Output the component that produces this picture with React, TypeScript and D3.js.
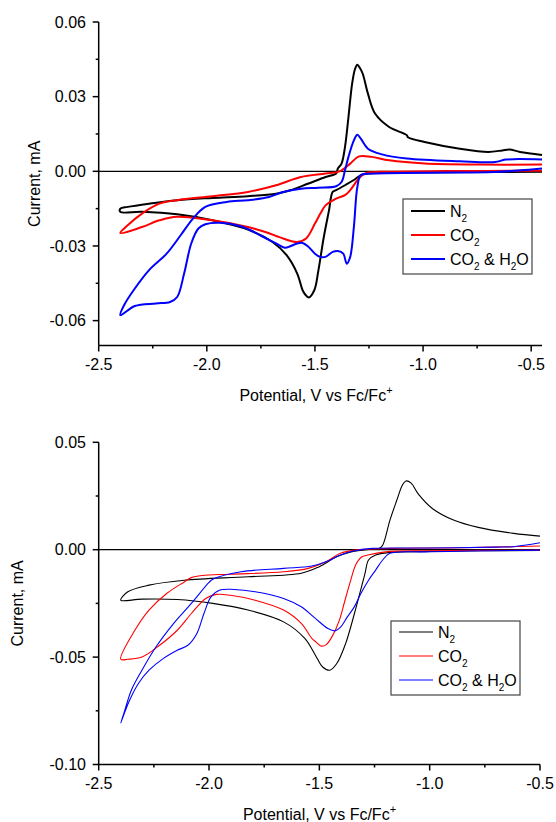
import React from "react";
import * as d3 from "d3";

type Pt = [number, number];

// ---------- Top panel data (potential V, current mA) ----------
const topN2: Pt[] = [
  [-0.45, -0.0002], [-0.8, -0.0003], [-1.1, -0.0005], [-1.25, -0.0008], [-1.288, -0.0016],
  [-1.32, -0.0035], [-1.361, -0.0056], [-1.402, -0.0076], [-1.418, -0.0083], [-1.435, -0.0157],
  [-1.459, -0.0264], [-1.484, -0.0398], [-1.503, -0.0478], [-1.529, -0.0507], [-1.545, -0.0495],
  [-1.557, -0.0478], [-1.582, -0.0411], [-1.631, -0.0337], [-1.696, -0.0284], [-1.81, -0.0234],
  [-1.974, -0.0197], [-2.137, -0.0173], [-2.3, -0.0163], [-2.4, -0.0163], [-2.4, -0.015],
  [-2.366, -0.0143], [-2.268, -0.013], [-2.137, -0.0116], [-1.974, -0.0107], [-1.81, -0.01],
  [-1.68, -0.009], [-1.614, -0.0076], [-1.533, -0.005], [-1.451, -0.0023], [-1.402, -0.0009],
  [-1.394, 0.0011], [-1.377, 0.0031], [-1.361, 0.0098], [-1.345, 0.0218], [-1.328, 0.0352],
  [-1.315, 0.041], [-1.304, 0.0428], [-1.292, 0.0415], [-1.279, 0.0392], [-1.255, 0.0312],
  [-1.222, 0.0232], [-1.157, 0.0178], [-1.075, 0.0145], [-1.07, 0.0137], [-0.993, 0.0118],
  [-0.83, 0.0091], [-0.699, 0.0078], [-0.634, 0.0084], [-0.601, 0.0088], [-0.552, 0.0078],
  [-0.45, 0.0066],
];
const topCO2: Pt[] = [
  [-0.45, 0.0002], [-0.9, 0.0001], [-1.2, -0.0002], [-1.255, -0.0005], [-1.28, -0.0015],
  [-1.304, -0.0036], [-1.337, -0.0076], [-1.361, -0.0096], [-1.402, -0.011], [-1.451, -0.0137],
  [-1.475, -0.017], [-1.5, -0.021], [-1.541, -0.027], [-1.582, -0.0284], [-1.647, -0.027],
  [-1.729, -0.0244], [-1.81, -0.0224], [-1.974, -0.0197], [-2.137, -0.0183], [-2.219, -0.0197],
  [-2.3, -0.0224], [-2.4, -0.0248], [-2.366, -0.0217], [-2.3, -0.017], [-2.219, -0.013],
  [-2.137, -0.0116], [-1.974, -0.01], [-1.81, -0.0083], [-1.68, -0.0056], [-1.565, -0.0023],
  [-1.451, -0.0009], [-1.386, 0.0], [-1.337, 0.0031], [-1.296, 0.006], [-1.239, 0.0058],
  [-1.157, 0.0044], [-0.993, 0.0031], [-0.748, 0.0027], [-0.45, 0.0027],
];
const topCO2H2O: Pt[] = [
  [-0.45, 0.0011], [-0.55, 0.0004], [-0.67, -0.0003], [-1.0, -0.0006], [-1.255, -0.001],
  [-1.288, -0.0015], [-1.304, -0.0063], [-1.32, -0.0224], [-1.337, -0.0344], [-1.353, -0.0371],
  [-1.369, -0.0331], [-1.394, -0.032], [-1.418, -0.0324], [-1.451, -0.0344], [-1.476, -0.0344],
  [-1.5, -0.0331], [-1.533, -0.0301], [-1.557, -0.0288], [-1.582, -0.029], [-1.614, -0.0301],
  [-1.639, -0.0307], [-1.68, -0.029], [-1.745, -0.0261], [-1.843, -0.0221], [-1.941, -0.0207],
  [-2.007, -0.0213], [-2.039, -0.023], [-2.072, -0.029], [-2.105, -0.0411], [-2.137, -0.0505],
  [-2.17, -0.0525], [-2.235, -0.0531], [-2.333, -0.0541], [-2.4, -0.0578], [-2.382, -0.0537],
  [-2.333, -0.0471], [-2.268, -0.0398], [-2.186, -0.0331], [-2.121, -0.0257], [-2.064, -0.019],
  [-2.007, -0.0143], [-1.908, -0.0123], [-1.81, -0.0116], [-1.712, -0.0103], [-1.647, -0.0083],
  [-1.565, -0.007], [-1.484, -0.0066], [-1.402, -0.006], [-1.377, -0.0043], [-1.361, 0.0004],
  [-1.345, 0.0058], [-1.32, 0.0124], [-1.304, 0.0147], [-1.288, 0.0131], [-1.255, 0.0091],
  [-1.19, 0.0068], [-1.075, 0.0051], [-0.83, 0.004], [-0.667, 0.0037], [-0.618, 0.0047],
  [-0.45, 0.0047],
];

// ---------- Bottom panel data ----------
const botN2: Pt[] = [
  [-0.5, -0.0003], [-1.0, -0.0008], [-1.18, -0.0013], [-1.245, -0.0025], [-1.277, -0.0048],
  [-1.293, -0.011], [-1.309, -0.0173], [-1.341, -0.0297], [-1.381, -0.0437], [-1.421, -0.053],
  [-1.453, -0.0561], [-1.485, -0.0546], [-1.518, -0.0491], [-1.566, -0.0413], [-1.662, -0.0336],
  [-1.823, -0.0281], [-1.983, -0.025], [-2.144, -0.0232], [-2.304, -0.023], [-2.4, -0.0235],
  [-2.368, -0.0196], [-2.272, -0.0165], [-2.112, -0.0142], [-1.823, -0.0126], [-1.582, -0.011],
  [-1.502, -0.008], [-1.421, -0.0033], [-1.357, -0.001], [-1.277, 0.0001], [-1.229, 0.0006],
  [-1.213, 0.0021], [-1.18, 0.0138], [-1.149, 0.023], [-1.124, 0.03], [-1.108, 0.032],
  [-1.084, 0.031], [-1.052, 0.026], [-0.988, 0.0192], [-0.892, 0.0138], [-0.78, 0.0104],
  [-0.619, 0.0076], [-0.5, 0.0063],
];
const botCO2: Pt[] = [
  [-0.5, -0.0002], [-1.0, -0.0005], [-1.2, -0.001], [-1.28, -0.0025], [-1.31, -0.0035],
  [-1.335, -0.007], [-1.36, -0.015], [-1.385, -0.024], [-1.41, -0.033], [-1.44, -0.04],
  [-1.47, -0.0443], [-1.494, -0.0448], [-1.515, -0.043], [-1.534, -0.0413], [-1.582, -0.0343],
  [-1.662, -0.0281], [-1.791, -0.0235], [-1.903, -0.0212], [-1.967, -0.0208], [-2.015, -0.0227],
  [-2.08, -0.0297], [-2.144, -0.0375], [-2.224, -0.0445], [-2.304, -0.05], [-2.368, -0.051],
  [-2.4, -0.051], [-2.336, -0.0375], [-2.272, -0.0281], [-2.192, -0.0204], [-2.112, -0.015],
  [-2.08, -0.013], [-2.031, -0.012], [-1.903, -0.0114], [-1.662, -0.0103], [-1.55, -0.0087],
  [-1.47, -0.0056], [-1.405, -0.0017], [-1.341, -0.0002], [-1.18, 0.0006], [-0.86, 0.0009],
  [-0.5, 0.0017],
];
const botCO2H2O: Pt[] = [
  [-0.5, -0.0002], [-1.02, -0.001], [-1.18, -0.0017], [-1.213, -0.0048], [-1.245, -0.0095],
  [-1.277, -0.0142], [-1.31, -0.02], [-1.341, -0.0265], [-1.373, -0.0313], [-1.405, -0.0362],
  [-1.429, -0.0378], [-1.461, -0.0367], [-1.518, -0.032], [-1.582, -0.0266], [-1.662, -0.0227],
  [-1.791, -0.0196], [-1.887, -0.0185], [-1.951, -0.0188], [-1.991, -0.022], [-2.023, -0.0297],
  [-2.055, -0.039], [-2.096, -0.0445], [-2.144, -0.0468], [-2.208, -0.0507], [-2.272, -0.0561],
  [-2.32, -0.0623], [-2.36, -0.0701], [-2.384, -0.0763], [-2.4, -0.0807], [-2.384, -0.0755],
  [-2.352, -0.0654], [-2.304, -0.0561], [-2.24, -0.0452], [-2.16, -0.0343], [-2.08, -0.025],
  [-2.0, -0.0152], [-1.983, -0.0138], [-1.855, -0.0103], [-1.662, -0.0087], [-1.534, -0.0076],
  [-1.47, -0.0056], [-1.405, -0.0025], [-1.341, -0.0005], [-1.261, 0.0006], [-1.0, 0.0008],
  [-0.7, 0.0012], [-0.619, 0.0014], [-0.5, 0.0032],
];

// ---------- Ticks ----------
const xMajor = [-2.5, -2.0, -1.5, -1.0, -0.5];
const xMajorLabels = ["-2.5", "-2.0", "-1.5", "-1.0", "-0.5"];
const xMinor = [-2.25, -1.75, -1.25, -0.75];
const topYMajor = [0.06, 0.03, 0.0, -0.03, -0.06];
const topYLabels = ["0.06", "0.03", "0.00", "-0.03", "-0.06"];
const topYMinor = [0.045, 0.015, -0.015, -0.045];
const botYMajor = [0.05, 0.0, -0.05, -0.1];
const botYLabels = ["0.05", "0.00", "-0.05", "-0.10"];
const botYMinor = [0.025, -0.025, -0.075];

const seriesNames = ["N2", "CO2", "CO2 & H2O"];
const seriesColors = ["#000000", "#ff0000", "#0000ff"];

const FONT = "'Liberation Sans', Arial, Helvetica, sans-serif";

function LegendLabel({ name }: { name: string }) {
  if (name === "N2")
    return (<>N<tspan fontSize={10} dy={5}>2</tspan></>);
  if (name === "CO2")
    return (<>CO<tspan fontSize={10} dy={5}>2</tspan></>);
  return (
    <>
      CO<tspan fontSize={10} dy={5}>2</tspan>
      <tspan dy={-5}> &amp; H</tspan>
      <tspan fontSize={10} dy={5}>2</tspan>
      <tspan dy={-5}>O</tspan>
    </>
  );
}

type PanelProps = {
  data: Pt[][];
  xDomain: [number, number];
  xRange: [number, number];
  yDomain: [number, number];
  yRange: [number, number];
  yMajor: number[];
  yLabels: string[];
  yMinor: number[];
  strokeW: number;
  yTitleX: number;
  xTitleX: number;
  xTitleY: number;
  legend: { x: number; y: number; w: number; h: number; rowY: number[] };
};

function Panel(p: PanelProps) {
  const x = d3.scaleLinear().domain(p.xDomain).range(p.xRange);
  const y = d3.scaleLinear().domain(p.yDomain).range(p.yRange);
  const line = d3
    .line<Pt>()
    .x((d) => x(d[0]))
    .y((d) => y(d[1]))
    .curve(d3.curveCatmullRom.alpha(0.5));
  const x0 = p.xRange[0];
  const x1 = p.xRange[1];
  const yb = p.yRange[0];
  const yt = p.yRange[1];
  const L = p.legend;
  return (
    <g>
      {/* zero line */}
      <line x1={x0} x2={x1} y1={y(0)} y2={y(0)} stroke="#000" strokeWidth={1.3} />
      {/* curves */}
      {p.data.map((d, i) => (
        <path key={i} d={line(d) || ""} fill="none" stroke={seriesColors[i]} strokeWidth={p.strokeW} strokeLinejoin="round" />
      ))}
      {/* axes */}
      <line x1={x0} x2={x0} y1={yt} y2={yb} stroke="#000" strokeWidth={1.5} />
      <line x1={x0} x2={x1} y1={yb} y2={yb} stroke="#000" strokeWidth={1.5} />
      {p.yMajor.map((v, i) => (
        <g key={"ym" + i}>
          <line x1={x0 - 6} x2={x0} y1={y(v)} y2={y(v)} stroke="#000" strokeWidth={1.5} />
          <text x={86} y={y(v)} dy="0.35em" textAnchor="end" fontSize={16} fontFamily={FONT}>{p.yLabels[i]}</text>
        </g>
      ))}
      {p.yMinor.map((v, i) => (
        <line key={"yn" + i} x1={x0 - 3} x2={x0} y1={y(v)} y2={y(v)} stroke="#000" strokeWidth={1.5} />
      ))}
      {xMajor.map((v, i) => (
        <g key={"xm" + i}>
          <line x1={x(v)} x2={x(v)} y1={yb} y2={yb + 6} stroke="#000" strokeWidth={1.5} />
          <text x={x(v)} y={yb + 24} textAnchor="middle" fontSize={16} fontFamily={FONT}>{xMajorLabels[i]}</text>
        </g>
      ))}
      {xMinor.map((v, i) => (
        <line key={"xn" + i} x1={x(v)} x2={x(v)} y1={yb} y2={yb + 3} stroke="#000" strokeWidth={1.5} />
      ))}
      {/* titles */}
      <text transform={`translate(${p.yTitleX},${(yt + yb) / 2}) rotate(-90)`} dy="0.35em" textAnchor="middle" fontSize={16} fontFamily={FONT}>Current, mA</text>
      <text x={p.xTitleX} y={p.xTitleY} textAnchor="middle" fontSize={16} fontFamily={FONT}>
        Potential, V vs Fc/Fc<tspan fontSize={11} dy={-7}>+</tspan>
      </text>
      {/* legend */}
      <rect x={L.x} y={L.y} width={L.w} height={L.h} fill="#fff" stroke="#444" strokeWidth={1.2} />
      {seriesNames.map((n, i) => (
        <g key={"lg" + i}>
          <line x1={L.x + 8} x2={L.x + 42} y1={L.rowY[i]} y2={L.rowY[i]} stroke={seriesColors[i]} strokeWidth={p.strokeW} />
          <text x={L.x + 47} y={L.rowY[i]} dy="0.35em" fontSize={16} fontFamily={FONT}>
            <LegendLabel name={n} />
          </text>
        </g>
      ))}
    </g>
  );
}

export default function App() {
  return (
    <svg width={556} height={822} style={{ position: "absolute", left: 0, top: 0, background: "#fff" }}>
      <rect width={556} height={822} fill="#fff" />
      <Panel
        data={[topN2, topCO2, topCO2H2O]}
        xDomain={[-2.5, -0.45]}
        xRange={[98.7, 542]}
        yDomain={[-0.07, 0.06]}
        yRange={[345.5, 22]}
        yMajor={topYMajor}
        yLabels={topYLabels}
        yMinor={topYMinor}
        strokeW={2}
        yTitleX={34}
        xTitleX={316}
        xTitleY={401}
        legend={{ x: 403, y: 199, w: 129, h: 75, rowY: [211, 235, 259] }}
      />
      <Panel
        data={[botN2, botCO2, botCO2H2O]}
        xDomain={[-2.5, -0.5]}
        xRange={[98.7, 540]}
        yDomain={[-0.1, 0.05]}
        yRange={[764.5, 442.3]}
        yMajor={botYMajor}
        yLabels={botYLabels}
        yMinor={botYMinor}
        strokeW={1.1}
        yTitleX={17}
        xTitleX={319.5}
        xTitleY={820}
        legend={{ x: 391, y: 621, w: 129, h: 74, rowY: [632, 656, 680] }}
      />
    </svg>
  );
}
